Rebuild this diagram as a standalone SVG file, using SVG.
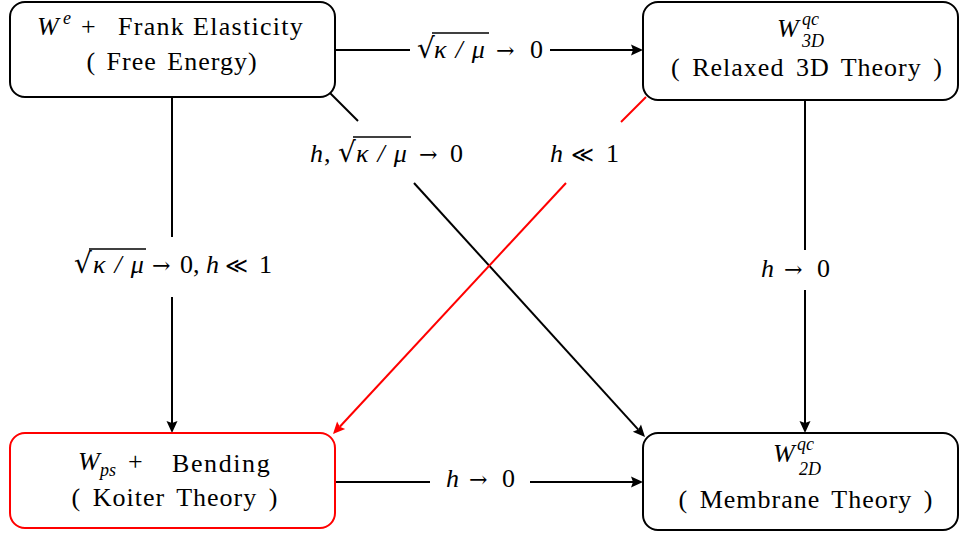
<svg xmlns="http://www.w3.org/2000/svg" width="962" height="535" viewBox="0 0 962 535">
<style>
.box{fill:#fff;stroke:#000;stroke-width:2}
.red{stroke:#f00}
.c{stroke:#000;stroke-width:2;fill:none}
.cr{stroke:#f00;stroke-width:2;fill:none}
.hd{fill:#000}
.hr{fill:#f00}
.ol{stroke:#000;stroke-width:1.3}
</style>
<g id="connectors">
<line class="c" x1="335" y1="50" x2="410" y2="50"/>
<line class="c" x1="550" y1="50" x2="633" y2="50"/>
<polygon class="hd" points="643,50 631,44.5 633,50 631,55.5"/>
<line class="c" x1="172" y1="97" x2="172" y2="237"/>
<line class="c" x1="172" y1="297" x2="172" y2="423"/>
<polygon class="hd" points="172,433 166.5,421 172,423 177.5,421"/>
<line class="c" x1="805" y1="100" x2="805" y2="250"/>
<line class="c" x1="805" y1="290" x2="805" y2="423"/>
<polygon class="hd" points="805,433 799.5,421 805,423 810.5,421"/>
<line class="c" x1="335" y1="482" x2="430" y2="482"/>
<line class="c" x1="530" y1="482" x2="633" y2="482"/>
<polygon class="hd" points="643,482 631,476.5 633,482 631,487.5"/>
<line class="c" x1="330" y1="93" x2="358" y2="121"/>
<line class="c" x1="414" y1="183" x2="638.3" y2="429.6"/>
<polygon class="hd" points="645,437 632.8,431.8 638.3,429.6 641,424.4"/>
<line class="cr" x1="646" y1="97" x2="621" y2="122"/>
<line class="cr" x1="566" y1="183" x2="339.8" y2="426.7"/>
<polygon class="hr" points="333,434 337.1,421.5 339.8,426.7 345.2,428.9"/>
</g>
<g id="labels">
<text style="font-family:'DejaVu Serif',serif;font-size:28px" x="417" y="58">√</text>
<line class="ol" x1="432" y1="33" x2="489" y2="33"/>
<text style="font-family:'Liberation Serif',serif;font-size:26px;font-style:italic;letter-spacing:9px" x="434" y="58">κ/μ</text>
<text style="font-family:'DejaVu Serif',serif;font-size:22px" x="496" y="58">→</text>
<text style="font-family:'Liberation Serif',serif;font-size:26px" x="530" y="58">0</text>

<text style="font-family:'Liberation Serif',serif;font-size:26px;font-style:italic" x="310" y="162">h</text>
<text style="font-family:'Liberation Serif',serif;font-size:26px" x="324" y="162">,</text>
<text style="font-family:'DejaVu Serif',serif;font-size:28px" x="338" y="162">√</text>
<line class="ol" x1="353" y1="137" x2="411" y2="137"/>
<text style="font-family:'Liberation Serif',serif;font-size:26px;font-style:italic;letter-spacing:9px" x="356" y="162">κ/μ</text>
<text style="font-family:'DejaVu Serif',serif;font-size:22px" x="419" y="162">→</text>
<text style="font-family:'Liberation Serif',serif;font-size:26px" x="450" y="162">0</text>

<text style="font-family:'Liberation Serif',serif;font-size:26px;font-style:italic" x="550" y="162">h</text>
<text style="font-family:'DejaVu Serif',serif;font-size:22px" x="571" y="162">≪</text>
<text style="font-family:'Liberation Serif',serif;font-size:26px" x="606" y="162">1</text>

<text style="font-family:'DejaVu Serif',serif;font-size:28px" x="74" y="273">√</text>
<line class="ol" x1="89" y1="249" x2="146" y2="249"/>
<text style="font-family:'Liberation Serif',serif;font-size:26px;font-style:italic;letter-spacing:9px" x="93" y="273">κ/μ</text>
<text style="font-family:'DejaVu Serif',serif;font-size:22px" x="152" y="273">→</text>
<text style="font-family:'Liberation Serif',serif;font-size:26px" x="180" y="273">0,</text>
<text style="font-family:'Liberation Serif',serif;font-size:26px;font-style:italic" x="206" y="273">h</text>
<text style="font-family:'DejaVu Serif',serif;font-size:22px" x="225" y="273">≪</text>
<text style="font-family:'Liberation Serif',serif;font-size:26px" x="259" y="273">1</text>

<text style="font-family:'Liberation Serif',serif;font-size:26px;font-style:italic" x="761" y="277">h</text>
<text style="font-family:'DejaVu Serif',serif;font-size:22px" x="784" y="277">→</text>
<text style="font-family:'Liberation Serif',serif;font-size:26px" x="817" y="277">0</text>

<text style="font-family:'Liberation Serif',serif;font-size:26px;font-style:italic" x="446" y="487">h</text>
<text style="font-family:'DejaVu Serif',serif;font-size:22px" x="469" y="487">→</text>
<text style="font-family:'Liberation Serif',serif;font-size:26px" x="502" y="487">0</text>
</g>
<g id="n1">
<rect class="box" x="10" y="2" width="325" height="95" rx="15"/>
<text style="font-family:'Liberation Serif',serif;font-size:26px;font-style:italic" x="37" y="35">W</text>
<text style="font-family:'Liberation Serif',serif;font-size:18px;font-style:italic" x="63" y="24">e</text>
<text style="font-family:'Liberation Serif',serif;font-size:26px" x="81" y="35">+</text>
<text style="font-family:'Liberation Serif',serif;font-size:26px;letter-spacing:1.3px" x="118" y="35">Frank Elasticity</text>
<text style="font-family:'Liberation Serif',serif;font-size:26px;letter-spacing:1px;word-spacing:3px" x="172" y="70" text-anchor="middle">( Free Energy)</text>
</g>
<g id="n2">
<rect class="box" x="643" y="2" width="315" height="98" rx="15"/>
<text style="font-family:'Liberation Serif',serif;font-size:26px;font-style:italic" x="777" y="37">W</text>
<text style="font-family:'Liberation Serif',serif;font-size:18px;font-style:italic" x="802" y="25">qc</text>
<text style="font-family:'Liberation Serif',serif;font-size:18px;font-style:italic" x="802" y="47">3D</text>
<text style="font-family:'Liberation Serif',serif;font-size:26px;letter-spacing:1px;word-spacing:4px" x="807" y="76" text-anchor="middle">( Relaxed 3D Theory )</text>
</g>
<g id="n3">
<rect class="box red" x="10" y="433" width="325" height="95" rx="15"/>
<text style="font-family:'Liberation Serif',serif;font-size:26px;font-style:italic" x="78" y="470">W</text>
<text style="font-family:'Liberation Serif',serif;font-size:18px;font-style:italic" x="100" y="476">ps</text>
<text style="font-family:'Liberation Serif',serif;font-size:26px" x="128" y="470">+</text>
<text style="font-family:'Liberation Serif',serif;font-size:26px;letter-spacing:1.6px" x="172" y="472">Bending</text>
<text style="font-family:'Liberation Serif',serif;font-size:26px;letter-spacing:1px;word-spacing:4px" x="175" y="506" text-anchor="middle">( Koiter Theory )</text>
</g>
<g id="n4">
<rect class="box" x="643" y="433" width="315" height="97" rx="15"/>
<text style="font-family:'Liberation Serif',serif;font-size:26px;font-style:italic" x="773" y="462">W</text>
<text style="font-family:'Liberation Serif',serif;font-size:18px;font-style:italic" x="797" y="450">qc</text>
<text style="font-family:'Liberation Serif',serif;font-size:18px;font-style:italic" x="799" y="475">2D</text>
<text style="font-family:'Liberation Serif',serif;font-size:26px;letter-spacing:1px;word-spacing:4px" x="806" y="508" text-anchor="middle">( Membrane Theory )</text>
</g>
</svg>
